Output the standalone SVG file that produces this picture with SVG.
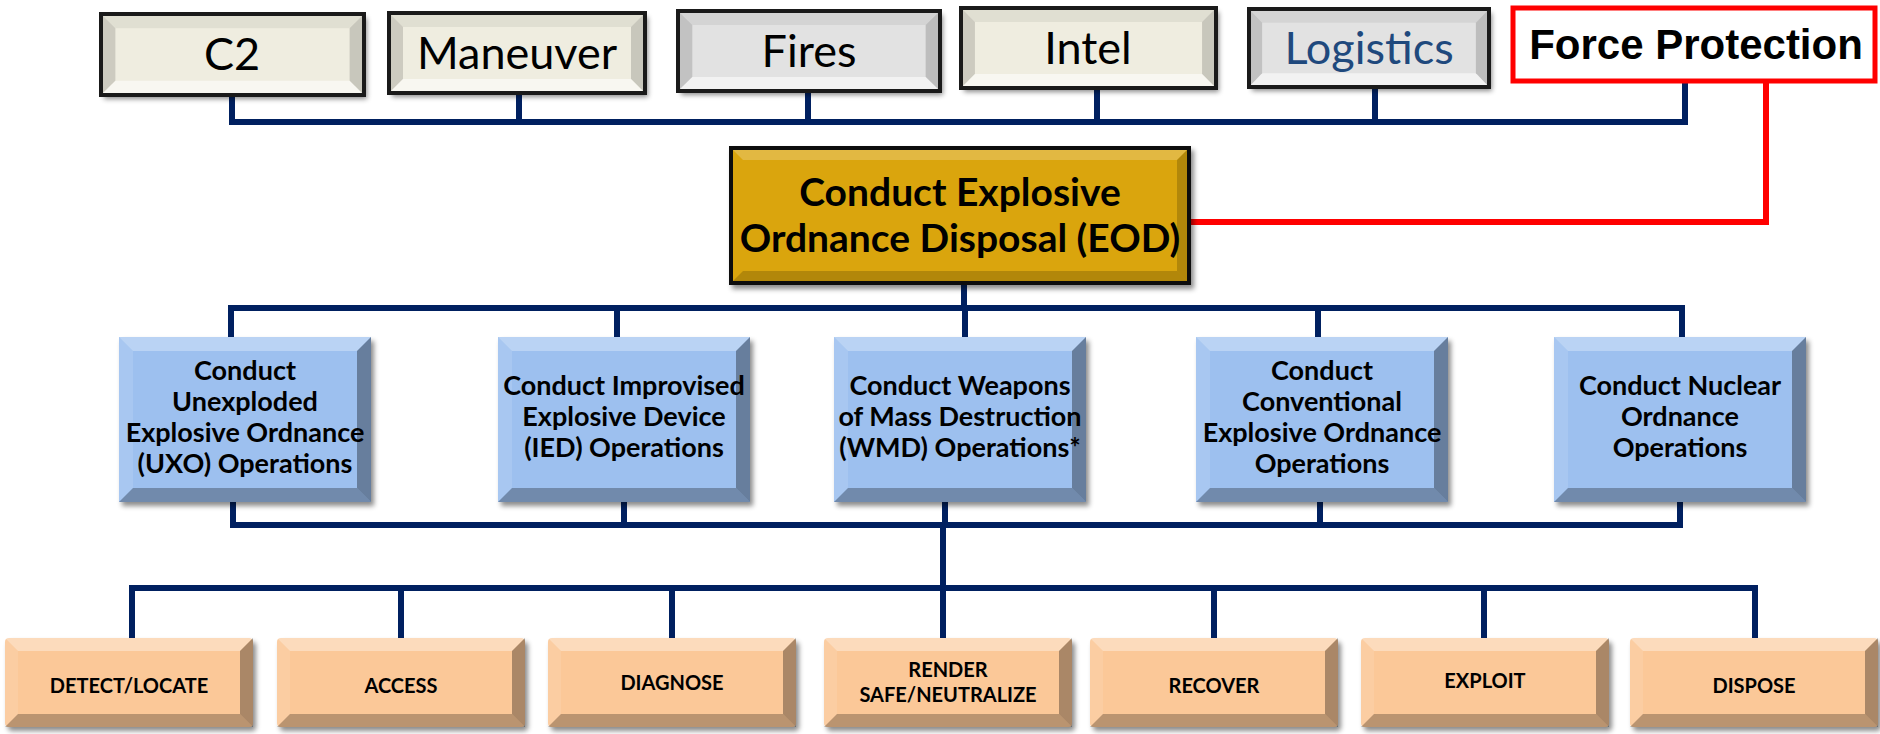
<svg xmlns="http://www.w3.org/2000/svg" xmlns:xlink="http://www.w3.org/1999/xlink" width="1880" height="734" viewBox="0 0 1880 734">
<style>
.conn{fill:none;stroke:#002060;stroke-width:6;stroke-linejoin:miter;stroke-linecap:square}
.red{fill:none;stroke:#FF0000;stroke-width:6;stroke-linecap:square}
.cream{fill:#EFEDE0}
.grey{fill:#E2E2E2}
.tb{fill:none;stroke:#1A1A1A;stroke-width:4}
.tt{font-family:Lato,"Noto Sans",sans-serif;font-size:45px;fill:#000;text-anchor:middle}
.blue{fill:#9DC0EF}
.bt{font-family:Lato,"Noto Sans",sans-serif;font-size:27px;font-weight:bold;fill:#000;text-anchor:middle}
.orange{fill:#FBC898}
.ot{font-family:Lato,"Noto Sans",sans-serif;font-size:20px;font-weight:bold;fill:#000;text-anchor:middle}
.eod{fill:#DAA507;stroke:#111;stroke-width:4}
.et{font-family:Lato,"Noto Sans",sans-serif;font-size:39px;font-weight:bold;fill:#000;text-anchor:middle}
.hl{fill:#fff}
.dk{fill:#000}
</style>
<defs>
<filter id="sh" x="-10%" y="-10%" width="130%" height="140%">
<feDropShadow dx="3" dy="4" stdDeviation="2.5" flood-color="#000" flood-opacity="0.45"/>
</filter>
<g id="bevTop">
<polygon points="0,0 256,0 242,14 14,14" class="dk" opacity="0.06"/>
<polygon points="0,0 14,14 14,66 0,80" class="dk" opacity="0.14"/>
<polygon points="256,0 242,14 242,66 256,80" class="dk" opacity="0.16"/>
<polygon points="0,80 14,66 242,66 256,80" class="hl" opacity="0.55"/>
</g>
<g id="bevBlue">
<polygon points="0,0 252,0 238,14 14,14" class="hl" opacity="0.3"/>
<polygon points="0,0 14,14 14,151 0,165" class="hl" opacity="0.12"/>
<polygon points="252,0 238,14 238,151 252,165" class="dk" opacity="0.34"/>
<polygon points="0,165 14,151 238,151 252,165" class="dk" opacity="0.28"/>
</g>
<g id="bevOrange">
<polygon points="0,0 248,0 235,13 13,13" class="hl" opacity="0.35"/>
<polygon points="0,0 13,13 13,76 0,89" class="hl" opacity="0.1"/>
<polygon points="248,0 235,13 235,76 248,89" class="dk" opacity="0.32"/>
<polygon points="0,89 13,76 235,76 248,89" class="dk" opacity="0.26"/>
</g>
</defs>
<rect width="1880" height="734" fill="#fff"/>

<g id="connectors">
<path class="conn" d="M232,95 V122 H1685 V82 M519,93 V122 M808,91 V122 M1097,88 V122 M1375,87 V122"/>
<path class="red" d="M1766,82 V222 H1189"/>
<path class="conn" d="M964,283 V308 M231,337 V308 H1682 V337 M617,308 V337 M965,308 V337 M1318,308 V337"/>
<path class="conn" d="M233,502 V525 H1680 V502 M624,502 V525 M945,502 V525 M1320,502 V525"/>
<path class="conn" d="M943,525 V588 M132,638 V588 H1755 V638 M401,588 V638 M672,588 V638 M943,588 V638 M1214,588 V638 M1484,588 V638"/>
</g>

<g id="c2">
<rect x="101" y="14" width="263" height="81" class="cream" filter="url(#sh)"/>
<use href="#bevTop" transform="translate(101,14) scale(1.0273,1.0125)"/>
<rect x="101" y="14" width="263" height="81" class="tb"/>
<text x="232" y="70" class="tt">C2</text>
</g>
<g id="maneuver">
<rect x="389" y="13" width="256" height="80" class="cream" filter="url(#sh)"/>
<use href="#bevTop" transform="translate(389,13)"/>
<rect x="389" y="13" width="256" height="80" class="tb"/>
<text x="517" y="69" class="tt">Maneuver</text>
</g>
<g id="fires">
<rect x="678" y="11" width="262" height="80" class="grey" filter="url(#sh)"/>
<use href="#bevTop" transform="translate(678,11) scale(1.0234,1)"/>
<rect x="678" y="11" width="262" height="80" class="tb"/>
<text x="809" y="67" class="tt">Fires</text>
</g>
<g id="intel">
<rect x="961" y="8" width="255" height="80" class="cream" filter="url(#sh)"/>
<use href="#bevTop" transform="translate(961,8) scale(0.9961,1)"/>
<rect x="961" y="8" width="255" height="80" class="tb"/>
<text x="1088" y="64" class="tt">Intel</text>
</g>
<g id="logistics">
<rect x="1249" y="9" width="240" height="78" class="grey" filter="url(#sh)"/>
<use href="#bevTop" transform="translate(1249,9) scale(0.9375,0.975)"/>
<rect x="1249" y="9" width="240" height="78" class="tb"/>
<text x="1369" y="64" class="tt" style="fill:#1F497D">Logistics</text>
</g>
<g id="force-protection">
<rect x="1513" y="8" width="362" height="73" fill="#fff" stroke="#FF0000" stroke-width="5"/>
<text x="1696" y="59" font-family="'Liberation Sans',Arial,sans-serif" font-size="42" font-weight="bold" text-anchor="middle" fill="#000">Force Protection</text>
</g>

<g id="eod">
<rect x="731" y="148" width="458" height="135" class="eod" filter="url(#sh)"/>
<polygon points="733,150 1187,150 1177,160 743,160" class="hl" opacity="0.22"/>
<polygon points="1187,150 1177,160 1177,271 1187,281" class="dk" opacity="0.18"/>
<polygon points="733,281 743,271 1177,271 1187,281" class="dk" opacity="0.18"/>
<text x="960" y="206" class="et">Conduct Explosive</text>
<text x="960" y="252" class="et">Ordnance Disposal (EOD)</text>
</g>

<g id="uxo">
<rect x="119" y="337" width="252" height="165" class="blue" filter="url(#sh)"/>
<use href="#bevBlue" x="119" y="337"/>
<text class="bt"><tspan x="245" y="380">Conduct</tspan><tspan x="245" y="411">Unexploded</tspan><tspan x="245" y="442">Explosive Ordnance</tspan><tspan x="245" y="473">(UXO) Operations</tspan></text>
</g>
<g id="ied">
<rect x="498" y="337" width="252" height="165" class="blue" filter="url(#sh)"/>
<use href="#bevBlue" x="498" y="337"/>
<text class="bt"><tspan x="624" y="395">Conduct Improvised</tspan><tspan x="624" y="426">Explosive Device</tspan><tspan x="624" y="457">(IED) Operations</tspan></text>
</g>
<g id="wmd">
<rect x="834" y="337" width="252" height="165" class="blue" filter="url(#sh)"/>
<use href="#bevBlue" x="834" y="337"/>
<text class="bt"><tspan x="960" y="395">Conduct Weapons</tspan><tspan x="960" y="426">of Mass Destruction</tspan><tspan x="960" y="457">(WMD) Operations*</tspan></text>
</g>
<g id="conventional">
<rect x="1196" y="337" width="252" height="165" class="blue" filter="url(#sh)"/>
<use href="#bevBlue" x="1196" y="337"/>
<text class="bt"><tspan x="1322" y="380">Conduct</tspan><tspan x="1322" y="411">Conventional</tspan><tspan x="1322" y="442">Explosive Ordnance</tspan><tspan x="1322" y="473">Operations</tspan></text>
</g>
<g id="nuclear">
<rect x="1554" y="337" width="252" height="165" class="blue" filter="url(#sh)"/>
<use href="#bevBlue" x="1554" y="337"/>
<text class="bt"><tspan x="1680" y="395">Conduct Nuclear</tspan><tspan x="1680" y="426">Ordnance</tspan><tspan x="1680" y="457">Operations</tspan></text>
</g>

<g id="detect">
<rect x="5" y="638" width="248" height="89" rx="4" class="orange" filter="url(#sh)"/>
<use href="#bevOrange" x="5" y="638"/>
<text x="129" y="693" class="ot">DETECT/LOCATE</text>
</g>
<g id="access">
<rect x="277" y="638" width="248" height="89" rx="4" class="orange" filter="url(#sh)"/>
<use href="#bevOrange" x="277" y="638"/>
<text x="401" y="693" class="ot">ACCESS</text>
</g>
<g id="diagnose">
<rect x="548" y="638" width="248" height="89" rx="4" class="orange" filter="url(#sh)"/>
<use href="#bevOrange" x="548" y="638"/>
<text x="672" y="690" class="ot">DIAGNOSE</text>
</g>
<g id="render-safe">
<rect x="824" y="638" width="248" height="89" rx="4" class="orange" filter="url(#sh)"/>
<use href="#bevOrange" x="824" y="638"/>
<text class="ot"><tspan x="948" y="677">RENDER</tspan><tspan x="948" y="702">SAFE/NEUTRALIZE</tspan></text>
</g>
<g id="recover">
<rect x="1090" y="638" width="248" height="89" rx="4" class="orange" filter="url(#sh)"/>
<use href="#bevOrange" x="1090" y="638"/>
<text x="1214" y="693" class="ot">RECOVER</text>
</g>
<g id="exploit">
<rect x="1361" y="638" width="248" height="89" rx="4" class="orange" filter="url(#sh)"/>
<use href="#bevOrange" x="1361" y="638"/>
<text x="1485" y="688" class="ot">EXPLOIT</text>
</g>
<g id="dispose">
<rect x="1630" y="638" width="248" height="89" rx="4" class="orange" filter="url(#sh)"/>
<use href="#bevOrange" x="1630" y="638"/>
<text x="1754" y="693" class="ot">DISPOSE</text>
</g>
</svg>
